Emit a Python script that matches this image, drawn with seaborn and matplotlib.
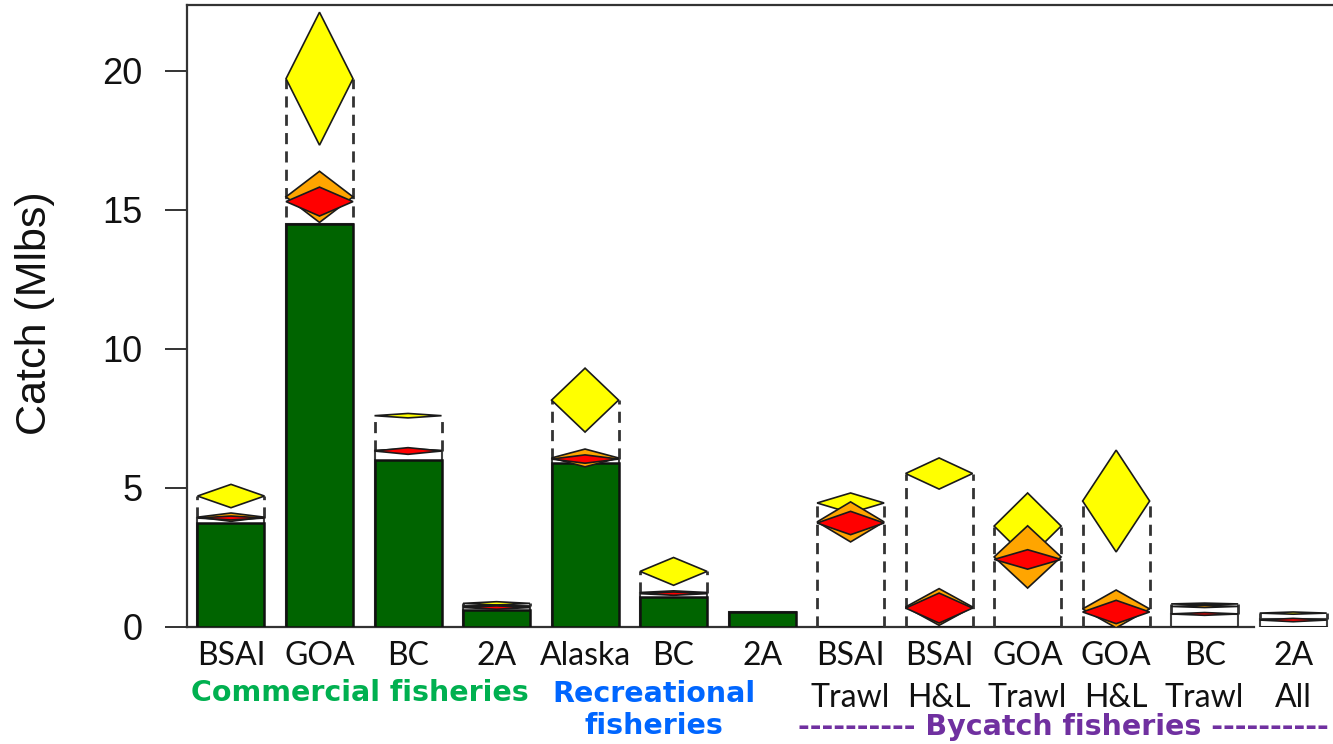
import numpy as np
import pandas as pd
import matplotlib
matplotlib.use("Agg")
import matplotlib.pyplot as plt
import seaborn as sns

# ---- data (million lbs) ----
keys = ["com_bsai", "com_goa", "com_bc", "com_2a",
        "rec_ak", "rec_bc", "rec_2a",
        "by_bsai_trawl", "by_bsai_hl", "by_goa_trawl", "by_goa_hl", "by_bc_trawl", "by_2a_all"]
tick_labels = ["BSAI", "GOA", "BC", "2A", "Alaska", "BC", "2A",
               "BSAI\nTrawl", "BSAI\nH&L", "GOA\nTrawl", "GOA\nH&L", "BC\nTrawl", "2A\nAll"]

catch = [3.74, 14.5, 6.0, 0.6, 5.9, 1.08, 0.55, 0, 0, 0, 0, 0, 0]
white_top = [3.92, 14.5, 6.33, 0.75, 6.04, 1.22, 0.55, 0, 0, 0, 0, 0.47, 0.3]
dash_lo = [3.92, 14.75, 6.33, 0.75, 6.04, 1.22, np.nan, 0, 0, 0, 0, 0.47, 0.3]
dash_hi = [4.71, 19.72, 7.6, 0.85, 8.16, 2.0, np.nan, 4.46, 5.5, 3.6, 4.53, 0.83, 0.5]

red_mid = [3.92, 15.3, 6.33, 0.70, 6.04, 1.2, np.nan, 3.74, 0.68, 2.43, 0.54, 0.47, 0.25]
red_half = [0.07, 0.52, 0.12, 0.06, 0.15, 0.06, np.nan, 0.42, 0.54, 0.35, 0.42, 0.05, 0.06]
orange_mid = [3.95, 15.47, 6.35, 0.74, 6.08, 1.24, np.nan, 3.78, 0.72, 2.52, 0.65, 0.74, np.nan]
orange_half = [0.15, 0.92, 0.06, 0.05, 0.32, 0.06, np.nan, 0.72, 0.66, 1.12, 0.68, 0.04, np.nan]
yellow_mid = [4.71, 19.72, 7.6, 0.85, 8.16, 2.0, np.nan, 4.46, 5.52, 3.63, 4.53, 0.83, 0.5]
yellow_half = [0.42, 2.39, 0.08, 0.06, 1.15, 0.5, np.nan, 0.36, 0.56, 1.19, 1.83, 0.03, 0.04]

y_ticks = [0, 5, 10, 15, 20]

df = pd.DataFrame({"key": keys, "catch": catch, "white_top": white_top})

sns.set_style("ticks")
plt.rcParams["font.family"] = ["Liberation Sans", "DejaVu Sans"]

fig = plt.figure(figsize=(13.33, 7.44), dpi=100)
ax = fig.add_axes([187 / 1333, (744 - 627) / 744, 1 - 187 / 1333, (627 - 5) / 744])

bar_w = 0.757
sns.barplot(data=df, x="key", y="white_top", color="white", saturation=1,
            edgecolor="#404040", linewidth=1.5, width=bar_w, errorbar=None, ax=ax, zorder=2)
sns.barplot(data=df, x="key", y="catch", color="#006400", saturation=1,
            edgecolor="#111111", linewidth=1.8, width=bar_w, errorbar=None, ax=ax, zorder=3)

xs = np.arange(len(keys))

# dashed range boxes
for x, lo, hi in zip(xs, dash_lo, dash_hi):
    if np.isnan(lo):
        continue
    ax.vlines([x - bar_w / 2, x + bar_w / 2], lo, hi, colors="#333333",
              linestyles=(0, (4, 2.6)), linewidth=2.0, zorder=4)

# diamonds: yellow behind, then orange, red on top
def diamonds(mids, halves, color, z):
    for x, m, h in zip(xs, mids, halves):
        if np.isnan(m):
            continue
        px = [x - bar_w / 2, x, x + bar_w / 2, x]
        py = [m, m + h, m, m - h]
        ax.fill(px, py, facecolor=color, edgecolor="#1a1a1a", linewidth=1.2, zorder=z)

diamonds(yellow_mid, yellow_half, "#FFFF00", 5)
diamonds(orange_mid, orange_half, "#FFA500", 6)
diamonds(red_mid, red_half, "#FF0000", 7)

ax.set_xlim(-0.497, 12.45)
ax.set_ylim(0, 22.37)
ax.set_yticks(y_ticks)
ax.set_yticklabels([str(t) for t in y_ticks], fontsize=26, color="#111111")
ax.set_xticks(xs)
ax.set_xticklabels(tick_labels, fontsize=23, family=["Lato", "DejaVu Sans"], color="#111111")
for lbl in ax.get_xticklabels():
    lbl.set_linespacing(1.5)
ax.tick_params(axis="y", length=16, width=1.4, pad=16, color="#333333")
ax.tick_params(axis="x", length=0, pad=10)
ax.set_xlabel("")
ax.set_ylabel("")

for side in ["left", "top", "bottom"]:
    ax.spines[side].set_color("#333333")
    ax.spines[side].set_linewidth(1.6)
ax.spines["right"].set_visible(False)
ax.spines["bottom"].set_bounds(-0.497, 11.56)

fig.text(35 / 1333, 1 - 313 / 744, "Catch (Mlbs)", rotation=90, fontsize=31,
         ha="center", va="center", color="#111111")

grp_font = dict(fontsize=20.5, fontweight="bold", family=["DejaVu Sans"], ha="center", va="center")
fig.text(360 / 1333, 1 - 693 / 744, "Commercial fisheries", color="#00B050", **grp_font)
fig.text(654 / 1333, 1 - 710 / 744, "Recreational\nfisheries", color="#0066FF",
         linespacing=1.2, **grp_font)
fig.text(1063 / 1333, 1 - 727 / 744, "---------- Bycatch fisheries ----------",
         color="#7030A0", **grp_font)

fig.savefig("out.png", dpi=100)
